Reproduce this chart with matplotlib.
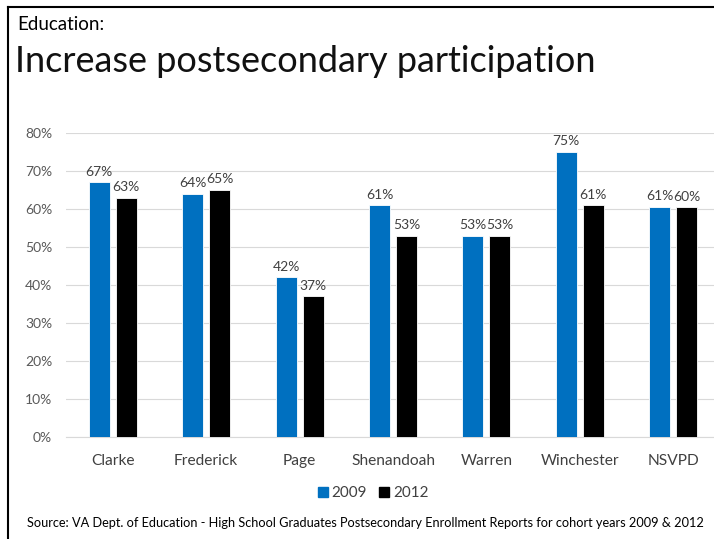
import numpy as np
import matplotlib.pyplot as plt
from matplotlib.lines import Line2D

# chart data
districts = ['Clarke', 'Frederick', 'Page', 'Shenandoah', 'Warren', 'Winchester', 'NSVPD']
pct_2009 = [67, 64, 42, 61, 53, 75, 60.6]
pct_2012 = [63, 65, 37, 53, 53, 61, 60.4]
y_ticks = [0, 10, 20, 30, 40, 50, 60, 70, 80]

W, H = 714, 539
fig = plt.figure(figsize=(W / 100, H / 100), dpi=100)
plt.rcParams['font.family'] = ['Lato', 'DejaVu Sans']

# plot area in pixel coords: left 66, right ~720, 0% at y=437, 80% at y=133
ax = fig.add_axes([66 / W, (H - 437) / H, (720 - 66) / W, (437 - 133) / H])

x = np.arange(len(districts))
bw = 0.225
off = 0.145
b1 = ax.bar(x - off, pct_2009, bw, color='#0070C0', edgecolor='white', linewidth=0.6, label='2009', zorder=3)
b2 = ax.bar(x + off, pct_2012, bw, color='black', edgecolor='white', linewidth=0.6, label='2012', zorder=3)

for bars, vals in [(b1, pct_2009), (b2, pct_2012)]:
    for b, v in zip(bars, vals):
        ax.text(b.get_x() + b.get_width() / 2, v + 1.2, f'{round(v)}%', ha='center', va='bottom',
                fontsize=10, color='#404040')

ax.set_xlim(-0.5, len(districts) - 0.5)
ax.set_ylim(0, 80)
ax.set_yticks(y_ticks)
ax.set_yticklabels([f'{t}%' for t in y_ticks], fontsize=10, color='#595959')
ax.set_xticks(x)
ax.set_xticklabels(districts, fontsize=11.2, color='#404040')
ax.tick_params(axis='both', length=0)
ax.tick_params(axis='x', pad=12)
ax.tick_params(axis='y', pad=10)
ax.grid(axis='y', color='#d9d9d9', linewidth=0.8, zorder=0)
for s in ['top', 'right', 'left']:
    ax.spines[s].set_visible(False)
ax.spines['bottom'].set_color('#d9d9d9')

handles = [Line2D([], [], marker='s', linestyle='none', markersize=7, color='#0070C0'),
           Line2D([], [], marker='s', linestyle='none', markersize=7, color='black')]
fig.legend(handles, ['2009', '2012'], loc='center', bbox_to_anchor=(371 / W, 1 - 493 / H), ncol=2,
           frameon=False, fontsize=11, handletextpad=0.0, columnspacing=0.5, handlelength=1.2,
           labelcolor='#404040')

# titles and source
fig.text(17 / W, 1 - 30 / H, 'Education:', fontsize=13.5, color='black', va='baseline')
fig.text(15 / W, 1 - 72 / H, 'Increase postsecondary participation', fontsize=26, color='#111111',
         va='baseline')
fig.text(365 / W, 1 - 523 / H,
         'Source: VA Dept. of Education - High School Graduates Postsecondary Enrollment Reports for cohort years 2009 & 2012',
         fontsize=9.2, ha='center', va='center', color='black')

# slide frame lines (top and left)
fig.add_artist(Line2D([8 / W, 1], [1 - 7 / H, 1 - 7 / H], color='black', linewidth=1.5))
fig.add_artist(Line2D([8 / W, 8 / W], [0, 1 - 7 / H], color='black', linewidth=1.5))

fig.savefig('out.png', dpi=100)
